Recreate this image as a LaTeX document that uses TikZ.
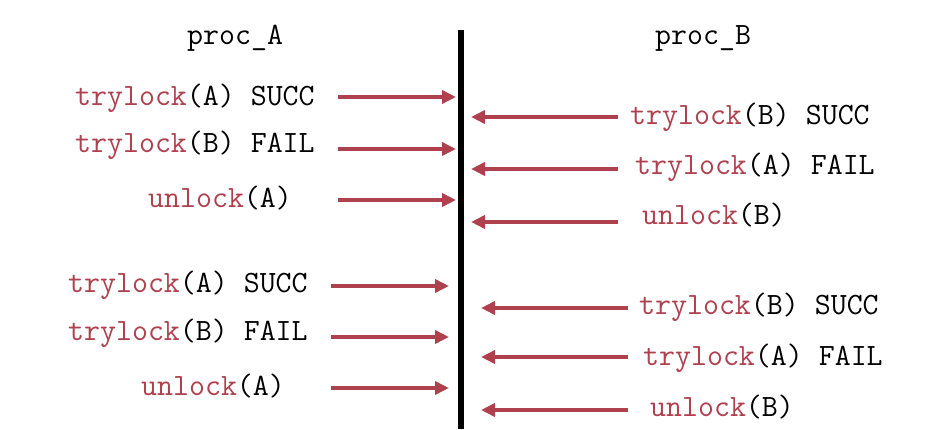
\documentclass[tikz,border=0pt]{standalone}
\usetikzlibrary{arrows.meta}
\definecolor{lockred}{RGB}{175,65,78}
\tikzset{
  lbl/.style={inner sep=0pt, anchor=base west, font=\ttfamily\fontsize{31}{35}\selectfont, text=black},
  msg/.style={draw=lockred, line width=4pt, -{Triangle[length=14pt,width=13pt]}},
  bar/.style={line width=6pt, black}
}
\newcommand{\fn}[1]{\textcolor{lockred}{#1}}
\begin{document}
\begin{tikzpicture}[x=1pt,y=-1pt]
\useasboundingbox[fill=white] (0,0) rectangle (950,430);
% headers
\node[lbl] (hA) at (187,45) {proc\_A};
\node[lbl] (hB) at (655,45) {proc\_B};
% timeline
\coordinate (top) at (461,30);
\coordinate (bot) at (461,429);
\draw[bar] (top) -- (bot);
% left texts
\node[lbl] (a1) at (75,106) {\fn{trylock}(A) SUCC};
\node[lbl] (a2) at (75,153) {\fn{trylock}(B) FAIL};
\node[lbl] (a3) at (148,208) {\fn{unlock}(A)};
\node[lbl] (a4) at (68,293) {\fn{trylock}(A) SUCC};
\node[lbl] (a5) at (68,340) {\fn{trylock}(B) FAIL};
\node[lbl] (a6) at (141,395) {\fn{unlock}(A)};
% right texts
\node[lbl] (b1) at (630,125) {\fn{trylock}(B) SUCC};
\node[lbl] (b2) at (635,175) {\fn{trylock}(A) FAIL};
\node[lbl] (b3) at (642,225) {\fn{unlock}(B)};
\node[lbl] (b4) at (639,314) {\fn{trylock}(B) SUCC};
\node[lbl] (b5) at (643,365) {\fn{trylock}(A) FAIL};
\node[lbl] (b6) at (650,416) {\fn{unlock}(B)};
% arrow endpoints left
\coordinate (as1) at (338,97);  \coordinate (ae1) at (456,97);
\coordinate (as2) at (338,149); \coordinate (ae2) at (456,149);
\coordinate (as3) at (338,200); \coordinate (ae3) at (456,200);
\coordinate (as4) at (331,286); \coordinate (ae4) at (449,286);
\coordinate (as5) at (331,337); \coordinate (ae5) at (449,337);
\coordinate (as6) at (331,388); \coordinate (ae6) at (449,388);
% arrow endpoints right
\coordinate (bs1) at (618,117); \coordinate (be1) at (471,117);
\coordinate (bs2) at (618,169); \coordinate (be2) at (471,169);
\coordinate (bs3) at (618,222); \coordinate (be3) at (471,222);
\coordinate (bs4) at (628,308); \coordinate (be4) at (481,308);
\coordinate (bs5) at (628,357); \coordinate (be5) at (481,357);
\coordinate (bs6) at (628,410); \coordinate (be6) at (481,410);
\foreach \i in {1,...,6} {
  \draw[msg] (as\i) -- (ae\i);
  \draw[msg] (bs\i) -- (be\i);
}
\end{tikzpicture}
\end{document}
